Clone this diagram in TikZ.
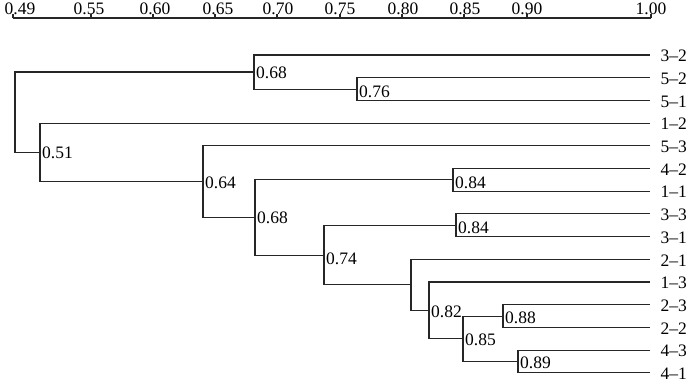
\documentclass[tikz,border=0pt]{standalone}
\usepackage{fontspec}
\setmainfont{Liberation Serif}
\begin{document}
\begin{tikzpicture}[x=1pt,y=-1pt,
  tree/.style={line width=1.1pt,draw=black!85},
  lab/.style={font=\fontsize{17.5}{20}\selectfont,inner sep=1.5pt,anchor=west,text=black},
  axlab/.style={font=\fontsize{17.5}{20}\selectfont,inner sep=0pt,anchor=base,text=black}]
\useasboundingbox (0,0) rectangle (700,386);
% axis
\coordinate (a0) at (13,18);
\coordinate (a1) at (651,18);
\draw[tree] (a0) -- (a1);
\foreach \x/\t/\s in {13/0.49/7,91/0.55/-2,153/0.60/2,215/0.65/3,277/0.70/1,340/0.75/0,402/0.80/1,464/0.85/1,527/0.90/0,651/1.00/0}{
  \draw[tree] (\x,14) -- (\x,18);
  \node[axlab] (ax\x) at (\x+\s,14) {\t};
}
% leaves
\foreach \i/\n in {0/3--2,1/5--2,2/5--1,3/1--2,4/5--3,5/4--2,6/1--1,7/3--3,8/3--1,9/2--1,10/1--3,11/2--3,12/2--2,13/4--3,14/4--1}{
  \coordinate (l\i) at (650,55+22.7*\i);
  \node[lab] (t\i) at (659,56+22.7*\i) {\n};
}
% internal nodes
\coordinate (n076) at (357,89.05);
\coordinate (n068a) at (254,72);
\coordinate (n084a) at (453,179.85);
\coordinate (n084b) at (456,225.25);
\coordinate (n088) at (503,316.05);
\coordinate (n089) at (518,361.45);
\coordinate (n085) at (463,338.75);
\coordinate (n082) at (429,310.4);
\coordinate (nX) at (411,284.85);
\coordinate (n074) at (324,255.05);
\coordinate (n068b) at (255,217.45);
\coordinate (n064) at (203,181.6);
\coordinate (n051) at (40,152.35);
\coordinate (root) at (15,112.2);
% connectors
\draw[tree] (n076) |- (l1) (n076) |- (l2);
\draw[tree] (n068a) |- (l0) (n068a) |- (n076);
\draw[tree] (n084a) |- (l5) (n084a) |- (l6);
\draw[tree] (n084b) |- (l7) (n084b) |- (l8);
\draw[tree] (n088) |- (l11) (n088) |- (l12);
\draw[tree] (n089) |- (l13) (n089) |- (l14);
\draw[tree] (n085) |- (n088) (n085) |- (n089);
\draw[tree] (n082) |- (l10) (n082) |- (n085);
\draw[tree] (nX) |- (l9) (nX) |- (n082);
\draw[tree] (n074) |- (n084b) (n074) |- (nX);
\draw[tree] (n068b) |- (n084a) (n068b) |- (n074);
\draw[tree] (n064) |- (l4) (n064) |- (n068b);
\draw[tree] (n051) |- (l3) (n051) |- (n064);
\draw[tree] (root) |- (n068a) (root) |- (n051);
% labels
\node[lab] (v068a) at (254.5,73) {0.68};
\node[lab] (v076) at (357.5,92) {0.76};
\node[lab] (v051) at (40.5,153) {0.51};
\node[lab] (v064) at (203.5,183) {0.64};
\node[lab] (v068b) at (255.5,218) {0.68};
\node[lab] (v084a) at (453.5,183) {0.84};
\node[lab] (v074) at (324.5,259) {0.74};
\node[lab] (v084b) at (456.5,228) {0.84};
\node[lab] (v082) at (429.5,312) {0.82};
\node[lab] (v085) at (463.5,340) {0.85};
\node[lab] (v088) at (503.5,318) {0.88};
\node[lab] (v089) at (518.5,363) {0.89};
\end{tikzpicture}
\end{document}
